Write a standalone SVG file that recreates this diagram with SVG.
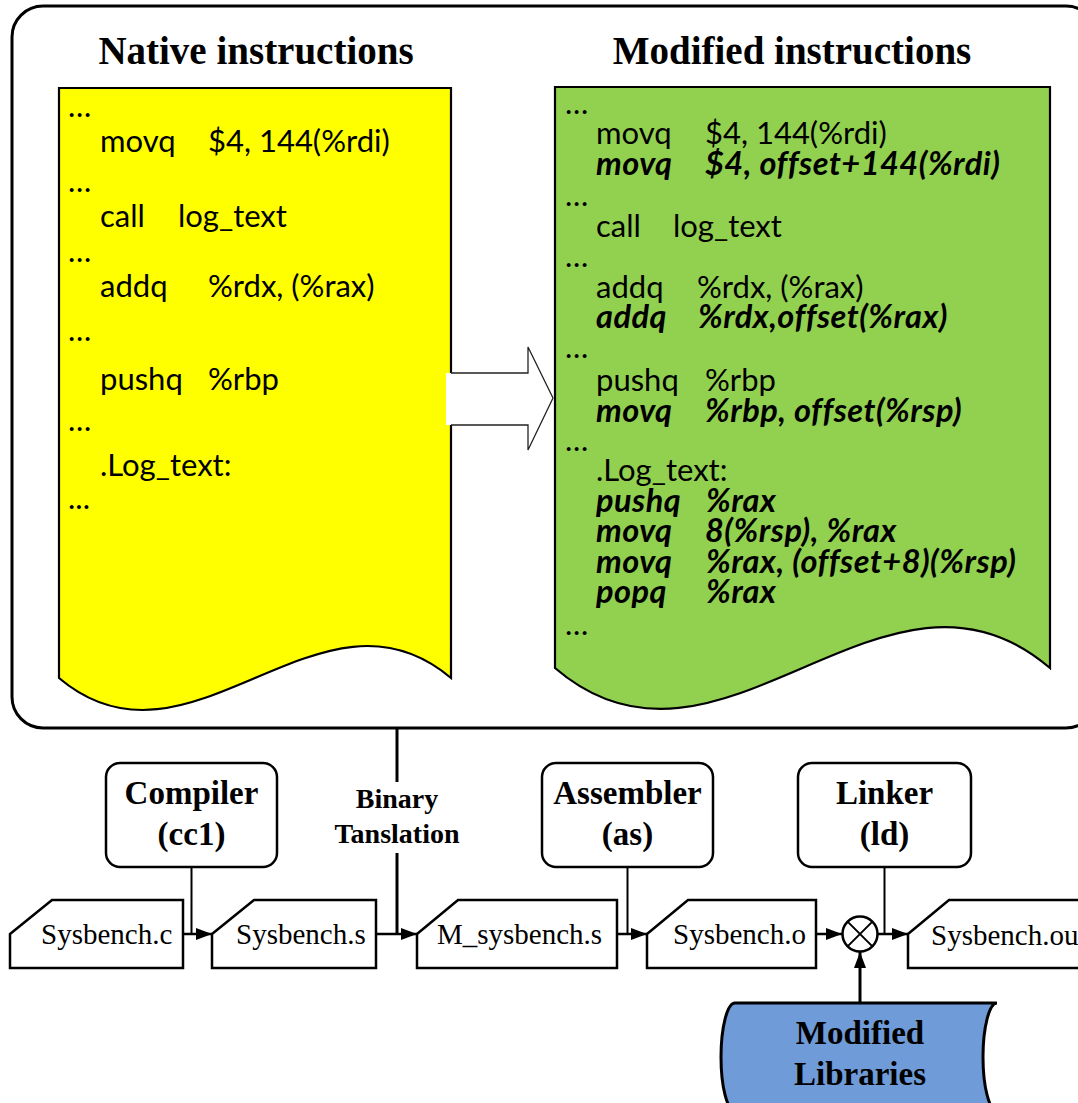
<svg xmlns="http://www.w3.org/2000/svg" width="1078" height="1103" viewBox="0 0 1078 1103">
  <defs>
    <marker id="arrow" viewBox="0 0 16 12" refX="16" refY="6" markerWidth="16" markerHeight="12" markerUnits="userSpaceOnUse" orient="auto">
      <path d="M0,0 L16,6 L0,12 Z" fill="#000"/>
    </marker>
    <style>
      .title { font-family: "Liberation Serif", "Times New Roman", serif; font-weight: bold; font-size: 39px; fill: #000; }
      .code { font-family: Lato, "Noto Sans", sans-serif; font-size: 31px; fill: #000; }
      .mod { font-weight: bold; font-style: italic; font-size: 32.5px; letter-spacing: 0.5px; }
      .tool { font-family: "Liberation Serif", "Times New Roman", serif; font-weight: bold; font-size: 33px; fill: #000; text-anchor: middle; }
      .bt { font-family: "Liberation Serif", "Times New Roman", serif; font-weight: bold; font-size: 28px; fill: #000; text-anchor: middle; }
      .file { font-family: "Liberation Serif", "Times New Roman", serif; font-size: 29px; fill: #000; }
      .box { fill: #fff; stroke: #000; stroke-width: 2.5; }
      .doc { stroke: #000; stroke-width: 2.2; }
      .wire { fill: none; stroke: #000; stroke-width: 2; }
      .flow { fill: none; stroke: #000; stroke-width: 2.5; }
      .thick { fill: none; stroke: #000; stroke-width: 3; }
    </style>
  </defs>

  <!-- instruction panel frame -->
  <g id="panel">
    <rect x="12" y="6" width="1085" height="722" rx="31" ry="31" fill="#fff" stroke="#000" stroke-width="3"/>
    <text class="title" x="256" y="64" text-anchor="middle">Native instructions</text>
    <text class="title" x="792" y="64" text-anchor="middle">Modified instructions</text>
  </g>

  <!-- native listing -->
  <g id="native-doc">
    <path class="doc" fill="#ffff00" d="M59,88 H451 V678 C320,567 190,789 59,678 Z"/>
    <g class="code">
      <text x="68" y="117">…</text>
      <text x="100" y="152">movq</text><text x="208" y="152">$4, 144(%rdi)</text>
      <text x="68" y="192">…</text>
      <text x="100" y="227">call</text><text x="178" y="227">log_text</text>
      <text x="68" y="262">…</text>
      <text x="100" y="297">addq</text><text x="208" y="297">%rdx, (%rax)</text>
      <text x="68" y="341">…</text>
      <text x="100" y="390">pushq</text><text x="208" y="390">%rbp</text>
      <text x="68" y="431">…</text>
      <text x="100" y="476">.Log_text:</text>
      <text x="68" y="509">...</text>
    </g>
  </g>

  <!-- modified listing -->
  <g id="modified-doc">
    <path class="doc" fill="#92d050" d="M555,87 H1050 V668 C885,526 720,810 555,668 Z"/>
    <g class="code">
      <text x="565" y="114">…</text>
      <text x="596" y="144">movq</text><text x="705" y="144">$4, 144(%rdi)</text>
      <text class="mod" x="596" y="175">movq</text><text class="mod" x="705" y="175">$4, offset+144(%rdi)</text>
      <text x="565" y="206">…</text>
      <text x="596" y="237">call</text><text x="673" y="237">log_text</text>
      <text x="565" y="267">…</text>
      <text x="596" y="298">addq</text><text x="697" y="298">%rdx, (%rax)</text>
      <text class="mod" x="596" y="328">addq</text><text class="mod" x="698" y="328">%rdx,offset(%rax)</text>
      <text x="565" y="358">…</text>
      <text x="596" y="391">pushq</text><text x="705" y="391">%rbp</text>
      <text class="mod" x="596" y="422">movq</text><text class="mod" x="705" y="422">%rbp, offset(%rsp)</text>
      <text x="565" y="451">…</text>
      <text x="596" y="481">.Log_text:</text>
      <text class="mod" x="596" y="512">pushq</text><text class="mod" x="706" y="512">%rax</text>
      <text class="mod" x="596" y="542">movq</text><text class="mod" x="705" y="542">8(%rsp), %rax</text>
      <text class="mod" x="596" y="573">movq</text><text class="mod" x="706" y="573">%rax, (offset+8)(%rsp)</text>
      <text class="mod" x="596" y="603">popq</text><text class="mod" x="706" y="603">%rax</text>
      <text x="565" y="635">…</text>
    </g>
  </g>

  <!-- translation block arrow -->
  <g id="translate-arrow">
    <path d="M446,373 H528 V347 L553,398 L528,450 V425 H446 Z" fill="#fff"/>
    <path d="M451,373 H528 V347 L553,398 L528,450 V425 H451" fill="none" stroke="#222" stroke-width="1.3"/>
  </g>

  <!-- toolchain stages -->
  <g id="compiler">
    <rect class="box" x="106" y="763" width="171" height="104" rx="14"/>
    <text class="tool" x="191.5" y="804">Compiler</text>
    <text class="tool" x="191.5" y="845">(cc1)</text>
  </g>
  <g id="binary-translation">
    <text class="bt" x="397" y="808">Binary</text>
    <text class="bt" x="397" y="843">Tanslation</text>
  </g>
  <g id="assembler">
    <rect class="box" x="542" y="763" width="171" height="104" rx="14"/>
    <text class="tool" x="627.5" y="804">Assembler</text>
    <text class="tool" x="627.5" y="845">(as)</text>
  </g>
  <g id="linker">
    <rect class="box" x="798" y="763" width="173" height="104" rx="14"/>
    <text class="tool" x="884.5" y="804">Linker</text>
    <text class="tool" x="884.5" y="845">(ld)</text>
  </g>

  <!-- files -->
  <g id="sysbench-c">
    <path class="box" d="M10,934 L52,900 H183 V968 H10 Z"/>
    <text class="file" x="41" y="944">Sysbench.c</text>
  </g>
  <g id="sysbench-s">
    <path class="box" d="M212,934 L254,900 H376 V968 H212 Z"/>
    <text class="file" x="236" y="944">Sysbench.s</text>
  </g>
  <g id="m-sysbench-s">
    <path class="box" d="M417,934 L458,900 H617 V968 H417 Z"/>
    <text class="file" x="437" y="944">M_sysbench.s</text>
  </g>
  <g id="sysbench-o">
    <path class="box" d="M647,934 L688,900 H816 V968 H647 Z"/>
    <text class="file" x="673" y="944">Sysbench.o</text>
  </g>
  <g id="sysbench-out">
    <path class="box" d="M908,934 L949,900 H1100 V968 H908 Z"/>
    <text class="file" x="931" y="945">Sysbench.out</text>
  </g>

  <!-- link junction -->
  <g id="junction">
    <circle cx="860" cy="934" r="17.5" fill="#fff" stroke="#000" stroke-width="2.5"/>
    <path d="M847.6,921.6 L872.4,946.4 M872.4,921.6 L847.6,946.4" stroke="#000" stroke-width="2"/>
  </g>

  <!-- library store -->
  <g id="modified-libraries">
    <path d="M735,1003 H997 A14,54 0 0 0 997,1111 H735 A14,54 0 0 1 735,1003 Z" fill="#6f9bd8" stroke="#000" stroke-width="3"/>
    <text class="tool" x="860" y="1044">Modified</text>
    <text class="tool" x="860" y="1085">Libraries</text>
  </g>

  <g id="connectors">
    <!-- file flow -->
    <line class="flow" x1="183" y1="934" x2="212" y2="934" marker-end="url(#arrow)"/>
    <line class="flow" x1="376" y1="934" x2="417" y2="934" marker-end="url(#arrow)"/>
    <line class="flow" x1="617" y1="934" x2="647" y2="934" marker-end="url(#arrow)"/>
    <line class="flow" x1="816" y1="934" x2="842" y2="934" marker-end="url(#arrow)"/>
    <line class="flow" x1="878" y1="934" x2="908" y2="934" marker-end="url(#arrow)"/>
    <!-- stage taps -->
    <line class="wire" x1="191.5" y1="867" x2="191.5" y2="934"/>
    <line class="wire" x1="627.5" y1="867" x2="627.5" y2="934"/>
    <line class="wire" x1="884.5" y1="867" x2="884.5" y2="934"/>
    <line class="thick" x1="397" y1="728" x2="397" y2="782"/>
    <line class="thick" x1="397" y1="853" x2="397" y2="934"/>
    <!-- libraries into linker junction -->
    <line class="thick" x1="860" y1="1003" x2="860" y2="952" marker-end="url(#arrow)"/>
  </g>
</svg>
